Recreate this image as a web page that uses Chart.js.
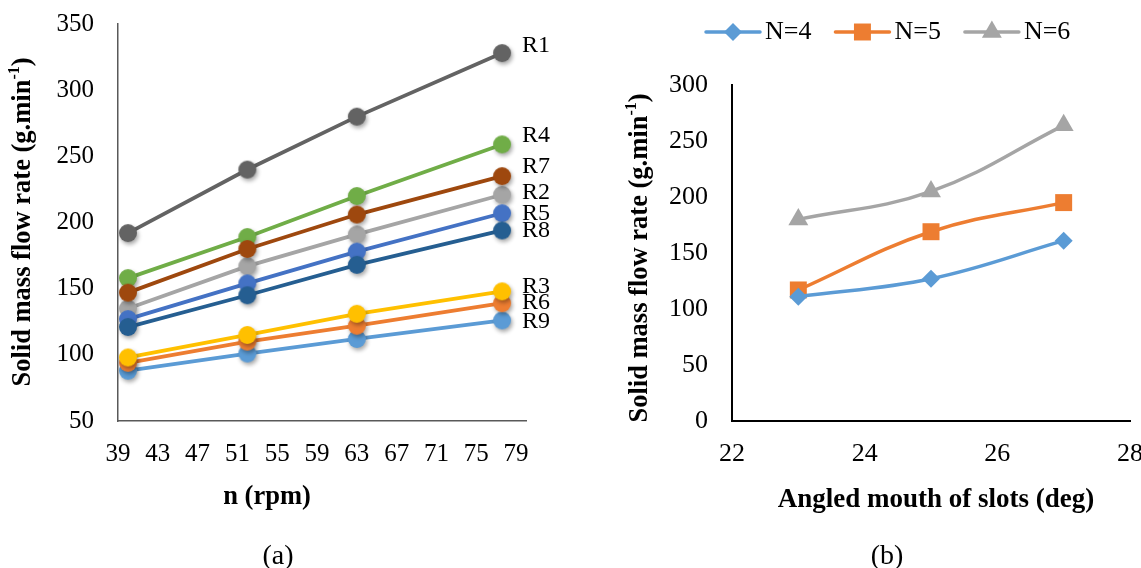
<!DOCTYPE html>
<html>
<head>
<meta charset="utf-8">
<script src="https://cdn.jsdelivr.net/npm/chart.js@4.4.1/dist/chart.umd.min.js"></script>
<style>
  html, body { margin: 0; padding: 0; background: #fff; overflow: hidden; }
  body { width: 1141px; height: 568px; position: relative; }
  #chartA { position: absolute; left: 0; top: 0; }
  #chartB { position: absolute; left: 580px; top: 0; }
</style>
</head>
<body>
<canvas id="chartA" width="580" height="568"></canvas>
<canvas id="chartB" width="580" height="568"></canvas>
<script>
// ---- chart (a): flow rate vs rotational speed ----
const speedRpm = [40, 52, 63, 77.6];
const rpmTicks = [39, 43, 47, 51, 55, 59, 63, 67, 71, 75, 79];
const r1 = [192, 240, 280, 328];
const r2 = [135, 167, 191, 221];
const r3 = [98, 115, 131, 148];
const r4 = [158, 189, 220, 259];
const r5 = [127, 154, 178, 207];
const r6 = [94, 110, 122, 139];
const r7 = [147, 180, 206, 235];
const r8 = [121, 145, 168, 194];
const r9 = [88, 101, 112, 126];

// ---- chart (b): flow rate vs angled mouth of slots ----
const slotAngle = [23, 25, 27];
const angleTicks = [22, 24, 26, 28];
const n4 = [111, 127, 161];
const n5 = [117, 169, 195];
const n6 = [180, 205, 264];

const FONT = "'Liberation Serif', 'Times New Roman', serif";
Chart.defaults.font.family = FONT;
Chart.defaults.color = '#000';

// circle marker with the soft drop shadow seen in the figure
function makeDot(color, r) {
  const pad = 7;
  const c = document.createElement('canvas');
  c.width = c.height = 2 * (r + pad);
  const g = c.getContext('2d');
  g.shadowColor = 'rgba(0,0,0,0.35)';
  g.shadowBlur = 4;
  g.shadowOffsetX = 1.5;
  g.shadowOffsetY = 2.5;
  g.fillStyle = color;
  g.beginPath();
  g.arc(r + pad, r + pad, r, 0, Math.PI * 2);
  g.fill();
  return c;
}

// series listed top-most first (Chart.js paints index 0 last)
const seriesA = [
  { name: 'R1', data: r1, color: '#636363', dy: -7 },
  { name: 'R7', data: r7, color: '#9E480E', dy: -9 },
  { name: 'R8', data: r8, color: '#255E91', dy: 0 },
  { name: 'R4', data: r4, color: '#70AD47', dy: -9 },
  { name: 'R5', data: r5, color: '#4472C4', dy: 0 },
  { name: 'R3', data: r3, color: '#FFC000', dy: -5 },
  { name: 'R2', data: r2, color: '#A5A5A5', dy: -2 },
  { name: 'R6', data: r6, color: '#ED7D31', dy: -1 },
  { name: 'R9', data: r9, color: '#5B9BD5', dy: 1 },
];

const seriesB = [
  { name: 'N=4', data: n4, color: '#5B9BD5', style: 'rectRot', radius: 9 },
  { name: 'N=5', data: n5, color: '#ED7D31', style: 'rect', radius: 12 },
  { name: 'N=6', data: n6, color: '#A5A5A5', style: 'triangle', radius: 11.5 },
];

function drawYTitle(ctx, t) {
  ctx.save();
  ctx.translate(t.x, t.y);
  ctx.rotate(-Math.PI / 2);
  ctx.textBaseline = 'middle';
  ctx.textAlign = 'left';
  const big = 'bold 26.5px ' + FONT, small = 'bold 16px ' + FONT;
  ctx.font = big;
  const w1 = ctx.measureText(t.text).width;
  const w3 = ctx.measureText(t.tail).width;
  ctx.font = small;
  const w2 = ctx.measureText(t.sup).width;
  let x = -(w1 + w2 + w3) / 2;
  ctx.font = big;
  ctx.fillText(t.text, x, 0);
  x += w1;
  ctx.font = small;
  ctx.fillText(t.sup, x, -8);
  x += w2;
  ctx.font = big;
  ctx.fillText(t.tail, x, 0);
  ctx.restore();
}

const deco = {
  id: 'deco',
  afterDraw(chart, args, opts) {
    const ctx = chart.ctx;
    ctx.save();
    ctx.fillStyle = '#000';
    drawYTitle(ctx, opts.yTitle);
    ctx.textAlign = 'center';
    ctx.textBaseline = 'middle';
    ctx.font = 'bold ' + opts.xTitle.size + 'px ' + FONT;
    ctx.fillText(opts.xTitle.text, opts.xTitle.x, opts.xTitle.y);
    ctx.font = '28px ' + FONT;
    ctx.fillText(opts.caption.text, opts.caption.x, opts.caption.y);

    // end-of-line series names
    if (opts.endLabels) {
      ctx.textAlign = 'left';
      ctx.font = '24px ' + FONT;
      chart.data.datasets.forEach((ds, i) => {
        const pts = chart.getDatasetMeta(i).data;
        const p = pts[pts.length - 1];
        ctx.fillText(ds.label, p.x + 20, p.y + ds.labelDy);
      });
    }

    // legend: short line with the marker on it, then the name
    if (opts.legend) {
      let x0 = opts.legend.x;
      const y = opts.legend.y;
      ctx.font = '26px ' + FONT;
      ctx.textAlign = 'left';
      chart.data.datasets.forEach(ds => {
        ctx.strokeStyle = ds.borderColor;
        ctx.fillStyle = ds.borderColor;
        ctx.lineWidth = 3.5;
        ctx.lineCap = 'round';
        ctx.beginPath();
        ctx.moveTo(x0, y);
        ctx.lineTo(x0 + 54, y);
        ctx.stroke();
        Chart.helpers.drawPoint(ctx, { pointStyle: ds.pointStyle, radius: ds.pointRadius, rotation: 0, borderWidth: 0 }, x0 + 27, y);
        ctx.fillStyle = '#000';
        ctx.fillText(ds.label, x0 + 59, y);
        x0 += 59 + ctx.measureText(ds.label).width + 24;
      });
    }
    ctx.restore();
  }
};

// pin the plot area: fixed scale thickness and no extra label padding
function pinned(size) {
  return s => {
    if (s.isHorizontal()) s.height = size; else s.width = size;
    s.paddingTop = s.paddingBottom = s.paddingLeft = s.paddingRight = 0;
  };
}

function axisOpts(extra, fontSize) {
  return Object.assign({
    type: 'linear',
    grid: { display: false, drawTicks: false },
  }, extra);
}

new Chart(document.getElementById('chartA'), {
  type: 'line',
  data: {
    datasets: seriesA.map(s => ({
      label: s.name,
      labelDy: s.dy,
      data: speedRpm.map((x, i) => ({ x: x, y: s.data[i] })),
      borderColor: s.color,
      backgroundColor: s.color,
      borderWidth: 3.8,
      pointStyle: makeDot(s.color, 9),
      pointRadius: 9,
      tension: 0,
    })),
  },
  options: {
    responsive: false,
    animation: false,
    events: [],
    layout: { padding: { top: 24, right: 54, left: 0, bottom: 0 } },
    plugins: {
      legend: { display: false },
      tooltip: { enabled: false },
      deco: {
        yTitle: { x: 23, y: 222, text: 'Solid mass flow rate (g.min', sup: '-1', tail: ')' },
        xTitle: { x: 267, y: 497, text: 'n (rpm)', size: 26.5 },
        caption: { x: 278, y: 557, text: '(a)' },
        endLabels: true,
      },
    },
    scales: {
      x: axisOpts({
        min: 39, max: 80,
        afterBuildTicks: s => { s.ticks = rpmTicks.map(v => ({ value: v })); },
        afterFit: pinned(568 - 421),
        border: { color: '#595959', width: 1.5 },
        ticks: { color: '#000', font: { size: 25 }, autoSkip: false, maxRotation: 0, padding: 18 },
      }),
      y: axisOpts({
        min: 50, max: 350,
        afterFit: pinned(118),
        border: { color: '#595959', width: 1.5 },
        ticks: { color: '#000', font: { size: 25 }, stepSize: 50, padding: 24 },
      }),
    },
  },
  plugins: [deco],
});

new Chart(document.getElementById('chartB'), {
  type: 'line',
  data: {
    datasets: seriesB.map(s => ({
      label: s.name,
      data: slotAngle.map((x, i) => ({ x: x, y: s.data[i] })),
      borderColor: s.color,
      backgroundColor: s.color,
      borderWidth: 3.5,
      pointStyle: s.style,
      pointRadius: s.radius,
      pointBorderWidth: 0,
      tension: 0.4,
    })),
  },
  options: {
    responsive: false,
    animation: false,
    events: [],
    layout: { padding: { top: 85, right: 30, left: 0, bottom: 0 } },
    plugins: {
      legend: { display: false },
      tooltip: { enabled: false },
      deco: {
        yTitle: { x: 60, y: 258, text: 'Solid mass flow rate (g.min', sup: '-1', tail: ')' },
        xTitle: { x: 356, y: 500, text: 'Angled mouth of slots (deg)', size: 27 },
        caption: { x: 307, y: 557, text: '(b)' },
        legend: { x: 126, y: 32 },
      },
    },
    scales: {
      x: axisOpts({
        min: 22, max: 28,
        afterBuildTicks: s => { s.ticks = angleTicks.map(v => ({ value: v })); },
        afterFit: pinned(568 - 421),
        border: { color: '#000', width: 2 },
        ticks: { color: '#000', font: { size: 26 }, autoSkip: false, maxRotation: 0, padding: 18 },
      }),
      y: axisOpts({
        min: 0, max: 300,
        afterFit: pinned(152),
        border: { color: '#000', width: 2 },
        ticks: { color: '#000', font: { size: 26 }, stepSize: 50, padding: 24 },
      }),
    },
  },
  plugins: [deco],
});
</script>
</body>
</html>
